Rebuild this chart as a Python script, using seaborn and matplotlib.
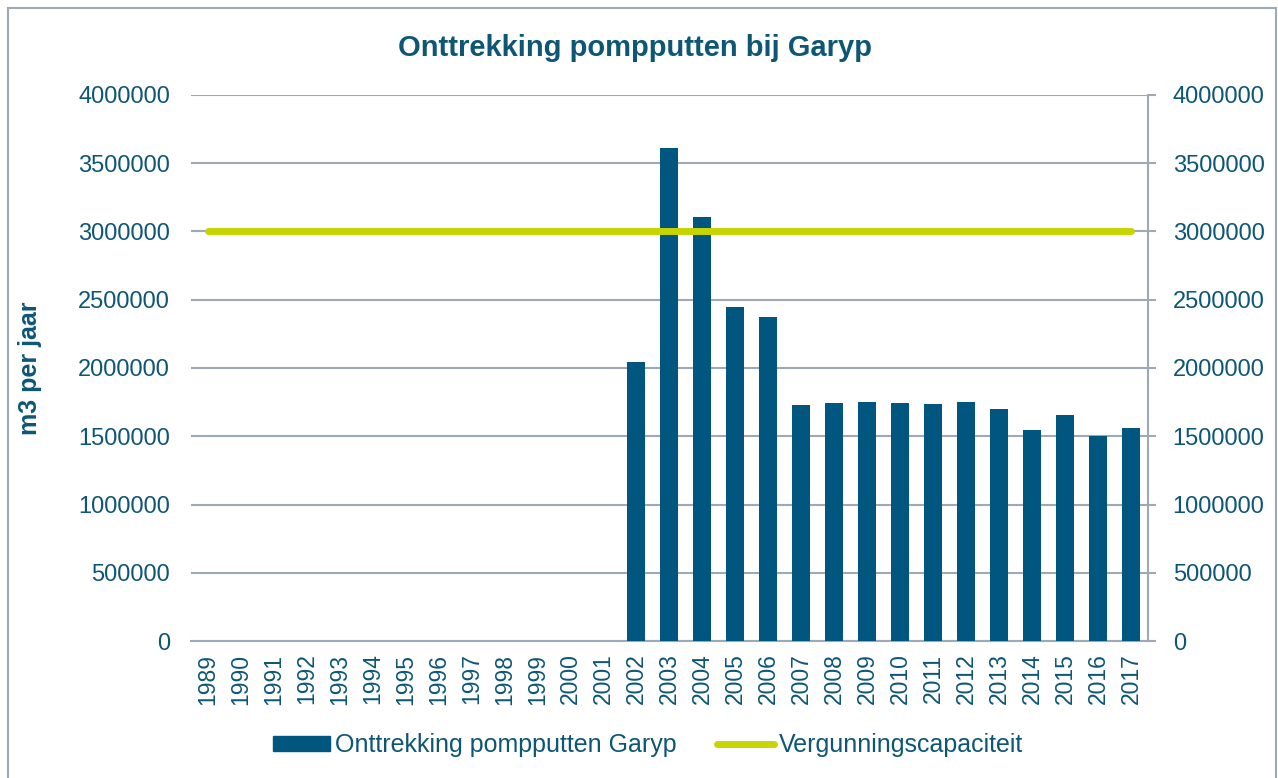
import numpy as np
import pandas as pd
import seaborn as sns
import matplotlib.pyplot as plt
from matplotlib.patches import Rectangle
from matplotlib.lines import Line2D

# data
years = [str(y) for y in range(1989, 2018)]
onttrekking = [0, 0, 0, 0, 0, 0, 0, 0, 0, 0, 0, 0, 0,
               2046000, 3609000, 3104000, 2447000, 2374000, 1731000, 1741000,
               1749000, 1741000, 1734000, 1751000, 1700000, 1546000, 1658000,
               1502000, 1563000]
vergunning = [3000000] * len(years)
yticks = [0, 500000, 1000000, 1500000, 2000000, 2500000, 3000000, 3500000, 4000000]

bar_color = '#00567e'
line_color = '#c8d400'
text_color = '#0d5676'
grid_color = '#9ea9b8'

sns.set_theme(style='white')
plt.rcParams['font.family'] = ['Liberation Sans', 'DejaVu Sans']

df = pd.DataFrame({'jaar': years, 'onttrekking': onttrekking, 'vergunning': vergunning})

fig = plt.figure(figsize=(12.78, 7.78), dpi=100)
ax = fig.add_axes([0.1495, 0.176, 0.7485, 0.702])

sns.barplot(data=df, x='jaar', y='onttrekking', order=years, color=bar_color,
            saturation=1, width=0.55, linewidth=0, ax=ax, zorder=3)
sns.lineplot(x=np.arange(len(years)), y=df['vergunning'], color=line_color,
             linewidth=5, ax=ax, zorder=4, solid_capstyle='round')

ax.set_xlim(-0.5, len(years) - 0.5)
ax.set_ylim(0, 4000000)
ax.set_yticks(yticks)
ax.set_yticklabels([str(v) for v in yticks])
ax.grid(axis='y', color=grid_color, linewidth=1.5, zorder=0)
ax.set_axisbelow(True)
for side in ['left', 'top', 'right']:
    ax.spines[side].set_visible(False)
ax.spines['bottom'].set_color(grid_color)
ax.spines['bottom'].set_linewidth(1.5)
ax.tick_params(axis='y', length=0, pad=15, labelsize=17, labelcolor=text_color)
ax.tick_params(axis='x', length=0, pad=9, labelsize=16.5, labelcolor=text_color, rotation=90)
ax.set_xlabel('')
ax.set_ylabel('m3 per jaar', fontsize=18, fontweight='bold', color=text_color, labelpad=26)
# title is centred on the figure, not on the plot area
ax.set_title('Onttrekking pompputten bij Garyp', fontsize=21, fontweight='bold',
             color=text_color, pad=28, x=0.464)

# right axis with the same scale
ax2 = ax.twinx()
ax2.set_ylim(ax.get_ylim())
ax2.set_yticks(yticks)
ax2.set_yticklabels([str(v) for v in yticks])
for side in ['left', 'top', 'bottom']:
    ax2.spines[side].set_visible(False)
ax2.spines['right'].set_color(grid_color)
ax2.spines['right'].set_linewidth(1.5)
ax2.tick_params(axis='y', length=6, width=1.5, color=grid_color, pad=12,
                labelsize=17, labelcolor=text_color)
ax2.grid(False)

# legend
handles = [Rectangle((0, 0), 1, 1, color=bar_color),
           Line2D([0], [0], color=line_color, linewidth=5, solid_capstyle='round')]
fig.legend(handles, ['Onttrekking pompputten Garyp', 'Vergunningscapaciteit'],
           loc='center', bbox_to_anchor=(0.507, 0.042), ncol=2, frameon=False,
           fontsize=18, labelcolor=text_color, handlelength=2.3, handleheight=0.5,
           handletextpad=0.2, columnspacing=1.6)

# outer border
fig.patches.append(Rectangle((8 / 1278, -0.05), 1268 / 1278, 1.05 - 8 / 778,
                             transform=fig.transFigure, fill=False,
                             edgecolor=grid_color, linewidth=1.5))

fig.savefig('out.png', dpi=100)
